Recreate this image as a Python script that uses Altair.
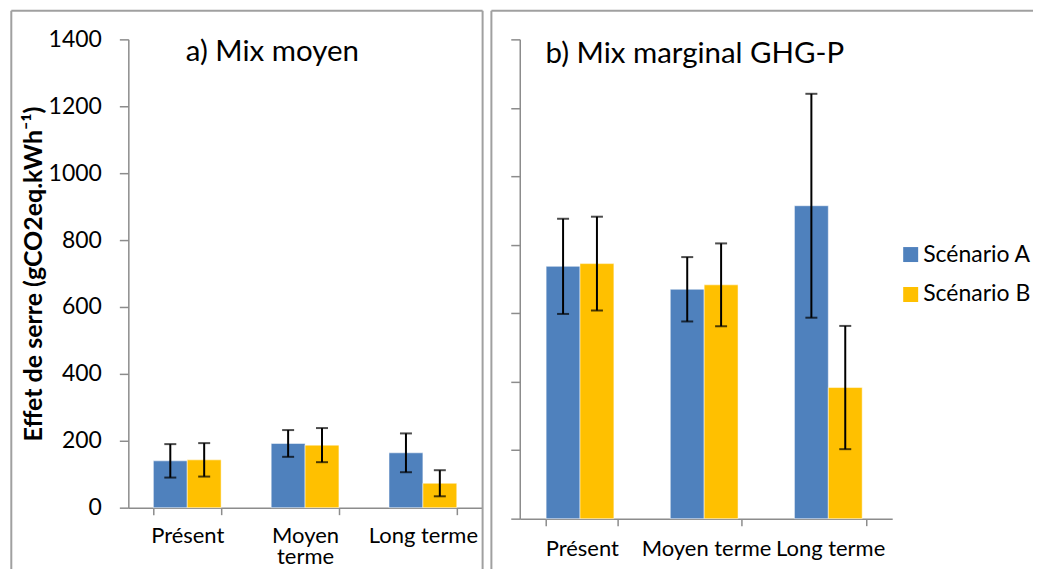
import altair as alt
import pandas as pd

categories = ["Présent", "Moyen terme", "Long terme"]
scenarios = ["Scénario A", "Scénario B"]
colors = ["#4F81BD", "#FFC000"]

moyen_A = [140, 192, 164]
moyen_B = [143, 187, 73]
moyen_err_A = [50, 40, 58]
moyen_err_B = [50, 51, 39]

marg_A = [737, 670, 914]
marg_B = [745, 683, 383]
marg_err_A = [139, 94, 327]
marg_err_B = [137, 121, 180]

y_ticks = [0, 200, 400, 600, 800, 1000, 1200, 1400]
title_a = "a) Mix moyen"
title_b = "b) Mix marginal GHG-P"
y_title = "Effet de serre (gCO2eq.kWh\u207b\u00b9)"

FONT = "Lato"
AXIS_GREY = "#8C8C8C"
BORDER_GREY = "#A0A0A0"


def make_df(a, b, ea, eb):
    rows = []
    for i, c in enumerate(categories):
        for s, v, e in ((scenarios[0], a[i], ea[i]), (scenarios[1], b[i], eb[i])):
            rows.append({"cat": c, "scen": s, "val": v, "lo": v - e, "hi": v + e})
    return pd.DataFrame(rows)


def panel(df, w, h, title, tx, ty, left, border_lines):
    ydom = alt.Scale(domain=[0, 1400], nice=False, zero=True)
    x_axis_kw = dict(
        title=None, labelAngle=0, tickBand="extent", tickSize=7, tickWidth=1.5,
        tickColor=AXIS_GREY, domainColor=AXIS_GREY, domainWidth=1.5,
        labelFont=FONT, labelFontSize=22, labelColor="black",
        labelPadding=11 if left else 13, labelLineHeight=21,
    )
    if left:
        x_axis_kw["labelExpr"] = "datum.value == 'Moyen terme' ? ['Moyen', 'terme'] : datum.value"
    y_axis_kw = dict(
        values=y_ticks, format="d", grid=False, tickSize=9, tickWidth=1.5, tickColor=AXIS_GREY,
        domainColor=AXIS_GREY, domainWidth=1.5,
        labelFont=FONT, labelFontSize=23, labelColor="black", labelPadding=18,
    )
    if left:
        y_axis_kw.update(title=y_title, titleFont=FONT, titleFontSize=25,
                         titleFontWeight="bold", titleColor="black", titlePadding=2)
    else:
        y_axis_kw.update(title=None, labels=False)
    y_axis = alt.Axis(**y_axis_kw)

    x = alt.X("cat:N", sort=categories,
              scale=alt.Scale(paddingInner=0.425, paddingOuter=0.2125),
              axis=alt.Axis(**x_axis_kw))
    xo = alt.XOffset("scen:N", sort=scenarios, scale=alt.Scale(domain=scenarios))

    if left:
        legend = None
    else:
        legend = alt.Legend(orient="none", legendX=380, legendY=204, title=None,
                            symbolType="square", symbolSize=225, symbolStrokeWidth=0,
                            labelFont=FONT, labelFontSize=23, labelColor="black",
                            rowPadding=16, labelOffset=1, padding=0)

    base = alt.Chart(df)
    bars = base.mark_bar(strokeWidth=1, strokeOpacity=0.5, stroke="white").encode(
        x=x, xOffset=xo,
        y=alt.Y("val:Q", scale=ydom, axis=y_axis),
        color=alt.Color("scen:N", scale=alt.Scale(domain=scenarios, range=colors), legend=legend),
    )
    err = base.mark_rule(color="black", strokeWidth=2).encode(
        x=x, xOffset=xo,
        y=alt.Y("lo:Q", scale=ydom, axis=y_axis), y2="hi:Q",
    )
    cap_lo = base.mark_tick(color="black", thickness=2, size=12, orient="horizontal").encode(
        x=x, xOffset=xo, y=alt.Y("lo:Q", scale=ydom, axis=y_axis))
    cap_hi = base.mark_tick(color="black", thickness=2, size=12, orient="horizontal").encode(
        x=x, xOffset=xo, y=alt.Y("hi:Q", scale=ydom, axis=y_axis))

    title_layer = alt.Chart(pd.DataFrame({"t": [title]})).mark_text(
        align="left", baseline="alphabetic", font=FONT, fontSize=29.5, color="black"
    ).encode(text="t:N", x=alt.value(tx), y=alt.value(ty))

    layers = [bars, err, cap_lo, cap_hi, title_layer]
    one = pd.DataFrame({"k": [0]})
    for (x1, x2, y1, y2) in border_lines:
        layers.append(alt.Chart(one).mark_rule(color=BORDER_GREY, strokeWidth=2).encode(
            x=alt.value(x1), x2=alt.value(x2), y=alt.value(y1), y2=alt.value(y2)))
    return alt.layer(*layers).properties(width=w, height=h)


df_a = make_df(moyen_A, moyen_B, moyen_err_A, moyen_err_B)
df_b = make_df(marg_A, marg_B, marg_err_A, marg_err_B)

# left panel: plot origin page (127.7, 38.6)
left_borders = [
    (-117.2, 354.8, -28.6, -28.6),
    (-117.2, -117.2, -28.6, 561),
    (354.8, 354.8, -28.6, 561),
]
# right panel: plot origin page (518.6, 38.6)
right_borders = [
    (-28.4, 541, -28.6, -28.6),
    (-28.4, -28.4, -28.6, 561),
]

pa = panel(df_a, 354, 469, title_a, 57.6, 21.4, True, left_borders)
pb = panel(df_b, 373, 480, title_b, 25.8, 24.0, False, right_borders)

chart = alt.hconcat(pa, pb, spacing=6).resolve_scale(color="independent").properties(
    padding={"left": 1.5, "top": 1, "right": -28, "bottom": -32}
).configure_view(stroke=None)

chart.save("out.html", embed_options={"renderer": "svg", "actions": False})
